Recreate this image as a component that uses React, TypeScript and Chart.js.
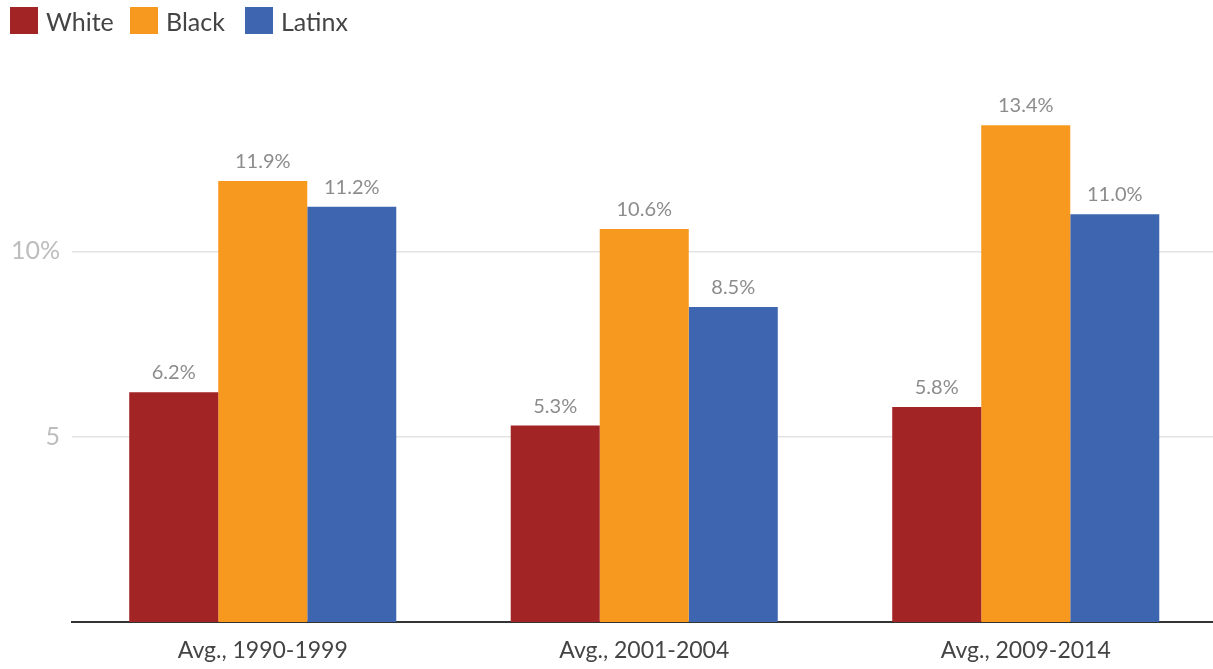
import React, { useEffect, useRef } from "react";
import { Chart, registerables } from "chart.js";

Chart.register(...registerables);

const categories = ["Avg., 1990-1999", "Avg., 2001-2004", "Avg., 2009-2014"];
const seriesNames = ["White", "Black", "Latinx"];
const whiteValues = [6.2, 5.3, 5.8];
const blackValues = [11.9, 10.6, 13.4];
const latinxValues = [11.2, 8.5, 11.0];
const seriesColors = ["#A32424", "#F7981F", "#3E66B0"];
const yTickValues = [5, 10];
const yTickLabels = ["5", "10%"];

const FONT = "Lato, 'Open Sans', sans-serif";

const valueLabels = {
  id: "valueLabels",
  afterDatasetsDraw(chart: any) {
    const ctx = chart.ctx;
    ctx.save();
    ctx.font = `20px ${FONT}`;
    ctx.fillStyle = "#8c8c8c";
    ctx.textAlign = "center";
    ctx.textBaseline = "alphabetic";
    chart.data.datasets.forEach((ds: any, i: number) => {
      const meta = chart.getDatasetMeta(i);
      meta.data.forEach((bar: any, j: number) => {
        ctx.fillText(ds.data[j].toFixed(1) + "%", bar.x, bar.y - 13);
      });
    });
    ctx.restore();
  },
};

export default function App() {
  const ref = useRef<HTMLCanvasElement | null>(null);

  useEffect(() => {
    if (!ref.current) return;
    const values = [whiteValues, blackValues, latinxValues];
    const chart = new Chart(ref.current, {
      type: "bar",
      data: {
        labels: categories,
        datasets: seriesNames.map((name, i) => ({
          label: name,
          data: values[i],
          backgroundColor: seriesColors[i],
          borderWidth: 0,
          categoryPercentage: 0.7,
          barPercentage: 1.0,
        })),
      },
      options: {
        animation: false,
        responsive: true,
        maintainAspectRatio: false,
        layout: { padding: { top: 66, right: 1.5, bottom: 0, left: 0 } },
        plugins: {
          legend: { display: false },
          tooltip: { enabled: false },
        },
        scales: {
          x: {
            grid: { display: false, drawTicks: false },
            border: { display: true, color: "#333333", width: 2 },
            afterFit(scale: any) {
              scale.height = 47;
            },
            ticks: {
              color: "#444444",
              font: { family: FONT, size: 23 },
              padding: 15,
            },
          },
          y: {
            min: 0,
            max: 15,
            afterBuildTicks(scale: any) {
              scale.ticks = yTickValues.map((v) => ({ value: v }));
            },
            afterFit(scale: any) {
              scale.width = 72;
            },
            grid: { color: "#e3e3e3", lineWidth: 1.5, drawTicks: false },
            border: { display: false },
            ticks: {
              color: "#bdbdbd",
              font: { family: FONT, size: 25 },
              padding: 12,
              callback: (v: any) => {
                const idx = yTickValues.indexOf(Number(v));
                return idx >= 0 ? yTickLabels[idx] : "";
              },
            },
          },
        },
      },
      plugins: [valueLabels],
    });
    return () => chart.destroy();
  }, []);

  const legendX = [10, 130, 245];

  return (
    <div
      style={{
        position: "fixed",
        left: 0,
        top: 0,
        width: 1218,
        height: 669,
        background: "#ffffff",
        overflow: "hidden",
      }}
    >
      <canvas ref={ref} />
      {seriesNames.map((name, i) => (
        <div
          key={name}
          style={{
            position: "absolute",
            left: legendX[i],
            top: 7,
            height: 27,
            display: "flex",
            alignItems: "center",
            fontFamily: FONT,
            fontSize: 25,
            color: "#444444",
          }}
        >
          <span
            style={{
              display: "inline-block",
              width: 28,
              height: 27,
              background: seriesColors[i],
              marginRight: 8,
            }}
          />
          {name}
        </div>
      ))}
    </div>
  );
}
